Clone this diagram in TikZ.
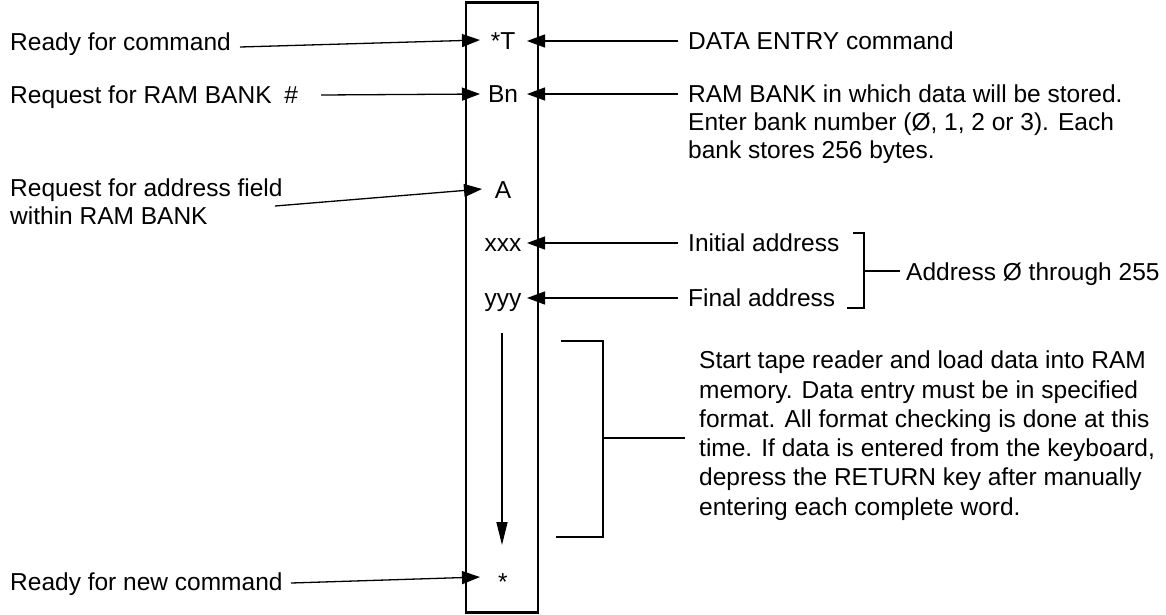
\documentclass[tikz,border=0pt]{standalone}
\usepackage{fontspec}
\setmainfont{Liberation Sans}
\usetikzlibrary{arrows.meta}
\begin{document}
\begin{tikzpicture}[x=1pt,y=-1pt,
  txt/.style={anchor=base west,inner sep=0pt,font=\fontsize{24.5}{28}\selectfont},
  cell/.style={anchor=base,inner sep=0pt,font=\fontsize{24.5}{28}\selectfont},
  arr/.style={line width=1.3pt,-{Triangle[length=18pt,width=13pt]}},
  darr/.style={line width=1.5pt,-{Triangle[length=23pt,width=11pt]}},
  brk/.style={line width=1.3pt}
]
\useasboundingbox (0,0) rectangle (1166,614);
% main column
\node[draw,line width=2.4pt,minimum width=72pt,minimum height=610pt,inner sep=0pt] (box) at (502,307.5) {};
\node[cell] (cT) at (503,49.7) {*T};
\node[cell] (cB) at (503,102.7) {Bn};
\node[cell] (cA) at (503,198.7) {A};
\node[cell] (cx) at (503,251.7) {xxx};
\node[cell] (cy) at (503,306.7) {yyy};
\node[cell] (cs) at (503,590) {*};
% left labels
\node[txt] (l1) at (10,50.7) {Ready for command};
\node[txt] (l2) at (10,103.7) {Request for RAM BANK\hspace{6pt} \#};
\node[txt] (l3) at (10,196) {Request for address field};
\node[txt] (l3b) at (10,224) {within RAM BANK};
\node[txt] (l4) at (10,590) {Ready for new command};
% left arrows
\coordinate (s1) at (240,47); \coordinate (t1) at (480,40);
\coordinate (s2) at (321,95); \coordinate (t2) at (480,94);
\coordinate (s3) at (275,206); \coordinate (t3) at (482,189);
\coordinate (s4) at (291,583); \coordinate (t4) at (480,577);
\draw[arr] (s1) -- (t1);
\draw[arr] (s2) -- (t2);
\draw[arr] (s3) -- (t3);
\draw[arr] (s4) -- (t4);
% right labels
\node[txt] (r1) at (688,49.7) {DATA ENTRY command};
\node[txt] (r2) at (688,102.7) {RAM BANK in which data will be stored.};
\node[txt] (r2b) at (688,130.7) {Enter bank number (Ø, 1, 2 or 3). Each};
\node[txt] (r2c) at (688,158.7) {bank stores 256 bytes.};
\node[txt] (r3) at (688,251.7) {Initial address};
\node[txt] (r4) at (688,306.7) {Final address};
\node[txt] (r5) at (906,280) {Address Ø through 255};
% right arrows
\coordinate (u1) at (678,41); \coordinate (v1) at (527,41);
\coordinate (u2) at (678,94); \coordinate (v2) at (527,94);
\coordinate (u3) at (678,243); \coordinate (v3) at (527,243);
\coordinate (u4) at (678,298); \coordinate (v4) at (527,298);
\draw[arr] (u1) -- (v1);
\draw[arr] (u2) -- (v2);
\draw[arr] (u3) -- (v3);
\draw[arr] (u4) -- (v4);
% address bracket
\coordinate (b2t) at (853,233); \coordinate (b2tr) at (864,233);
\coordinate (b2br) at (864,308); \coordinate (b2b) at (847,308);
\coordinate (b2m) at (864,271); \coordinate (b2e) at (900,271);
\draw[brk] (b2t) -- (b2tr) -- (b2br) -- (b2b);
\draw[brk] (b2m) -- (b2e);
% flow arrow
\coordinate (d1) at (502,333); \coordinate (d2) at (502,545);
\draw[darr] (d1) -- (d2);
% paragraph bracket
\coordinate (b1t) at (561,341); \coordinate (b1tr) at (603,341);
\coordinate (b1br) at (603,537); \coordinate (b1b) at (556,537);
\coordinate (b1m) at (603,438); \coordinate (b1e) at (685,438);
\draw[brk] (b1t) -- (b1tr) -- (b1br) -- (b1b);
\draw[brk] (b1m) -- (b1e);
\node[txt] (p1) at (699,368.7) {Start tape reader and load data into RAM};
\node[txt] (p2) at (699,398) {memory. Data entry must be in specified};
\node[txt] (p3) at (699,427.3) {format. All format checking is done at this};
\node[txt] (p4) at (699,456.6) {time. If data is entered from the keyboard,};
\node[txt] (p5) at (699,485.9) {depress the RETURN key after manually};
\node[txt] (p6) at (699,515.2) {entering each complete word.};
\end{tikzpicture}
\end{document}
